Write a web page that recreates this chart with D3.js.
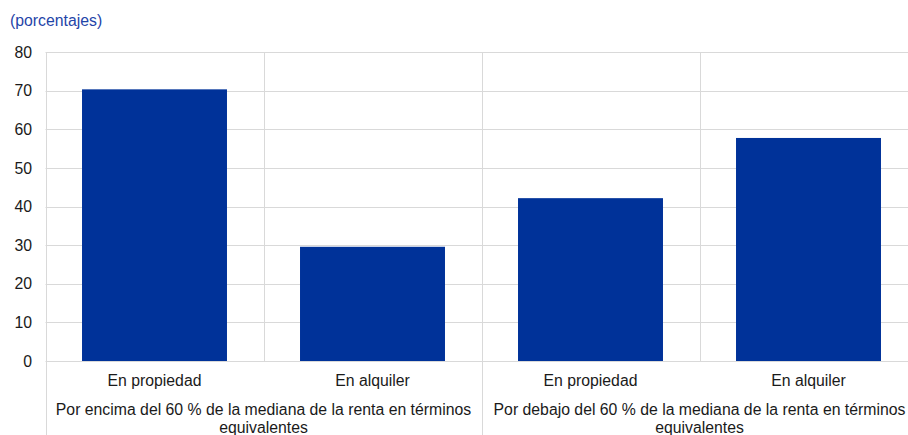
<!DOCTYPE html>
<html>
<head>
<meta charset="utf-8">
<script src="https://cdn.jsdelivr.net/npm/d3@7"></script>
<style>
  html, body { margin: 0; padding: 0; background: #fff; }
  svg { display: block; font-family: "Liberation Sans", Arial, sans-serif; }
</style>
</head>
<body>
<svg id="chart" width="908" height="435"></svg>
<script>
// Tenure split of households by income position (percentages)
const groups = [
  "Por encima del 60 % de la mediana de la renta en términos equivalentes",
  "Por debajo del 60 % de la mediana de la renta en términos equivalentes"
];
const tenures = ["En propiedad", "En alquiler"];
const values = [70.4, 29.6, 42.2, 57.8];
const yTicks = [0, 10, 20, 30, 40, 50, 60, 70, 80];
const unitLabel = "(porcentajes)";

const rows = values.map((v, i) => ({
  key: i,
  group: groups[Math.floor(i / tenures.length)],
  tenure: tenures[i % tenures.length],
  value: v
}));

const svg = d3.select("#chart");
const plotLeft = 45.5, plotRight = 917.5, plotTop = 52.3, plotBottom = 361;
const fontSize = "15.8px";
const textColor = "#1a1a1a";

const x = d3.scaleBand()
  .domain(rows.map(d => d.key))
  .range([plotLeft, plotRight])
  .paddingInner(0.335)
  .paddingOuter(0.1675);

const y = d3.scaleLinear().domain([0, 80]).range([plotBottom, plotTop]);

const grid = "#d9d9d9";

// horizontal gridlines
svg.append("g").selectAll("line").data(yTicks).join("line")
  .attr("x1", plotLeft).attr("x2", plotRight)
  .attr("y1", d => Math.round(y(d)) + 0.5).attr("y2", d => Math.round(y(d)) + 0.5)
  .attr("stroke", grid).attr("stroke-width", 1);

// category separators; group boundaries run down through the labels
const step = x.step();
const seps = d3.range(rows.length + 1);
svg.append("g").selectAll("line").data(seps).join("line")
  .attr("x1", i => Math.round(plotLeft + i * step) + 0.5)
  .attr("x2", i => Math.round(plotLeft + i * step) + 0.5)
  .attr("y1", plotTop)
  .attr("y2", i => (i % tenures.length === 0) ? 435 : plotBottom)
  .attr("stroke", grid).attr("stroke-width", 1);

// bars
svg.append("g").selectAll("rect").data(rows).join("rect")
  .attr("x", d => x(d.key))
  .attr("width", x.bandwidth())
  .attr("y", d => y(d.value))
  .attr("height", d => y(0) - y(d.value))
  .attr("fill", "#003299");

// y axis labels
svg.append("g").selectAll("text").data(yTicks).join("text")
  .attr("x", 32).attr("y", d => y(d))
  .attr("dy", "0.35em")
  .attr("text-anchor", "end")
  .attr("font-size", fontSize)
  .attr("fill", textColor)
  .text(d => d);

// tenure labels
svg.append("g").selectAll("text").data(rows).join("text")
  .attr("x", d => x(d.key) + x.bandwidth() / 2)
  .attr("y", 386)
  .attr("text-anchor", "middle")
  .attr("font-size", fontSize)
  .attr("fill", textColor)
  .text(d => d.tenure);

// group labels, wrapped inside their span
const groupWidth = step * tenures.length;
groups.forEach((g, gi) => {
  const cx = plotLeft + groupWidth * (gi + 0.5);
  const t = svg.append("text")
    .attr("text-anchor", "middle")
    .attr("font-size", fontSize)
    .attr("fill", textColor);
  const words = g.split(" ");
  let line = [], lineNo = 0;
  let tspan = t.append("tspan").attr("x", cx).attr("y", 415);
  words.forEach(w => {
    line.push(w);
    tspan.text(line.join(" "));
    if (tspan.node().getComputedTextLength() > groupWidth - 8 && line.length > 1) {
      line.pop();
      tspan.text(line.join(" "));
      line = [w];
      lineNo++;
      tspan = t.append("tspan").attr("x", cx).attr("y", 415 + lineNo * 18).text(w);
    }
  });
});

// unit label
svg.append("text")
  .attr("x", 10).attr("y", 26)
  .attr("font-size", fontSize)
  .attr("fill", "#1f45a8")
  .text(unitLabel);
</script>
</body>
</html>
